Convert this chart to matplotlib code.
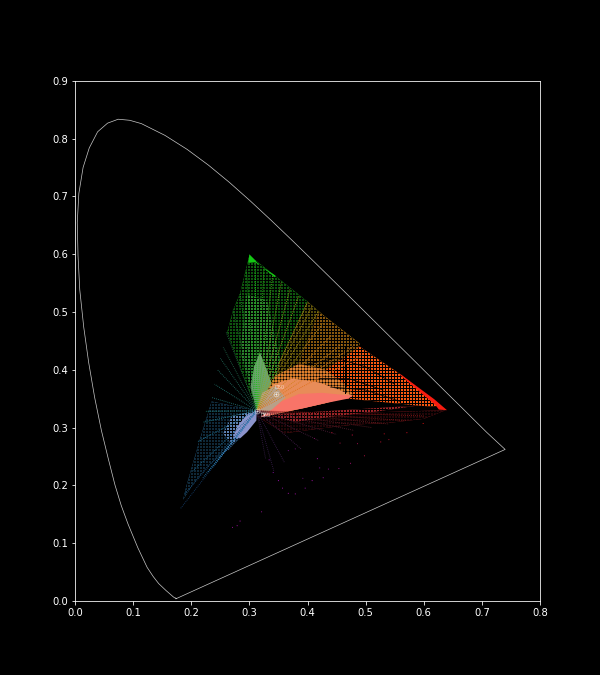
import matplotlib
matplotlib.use('Agg')
import matplotlib.pyplot as plt
from matplotlib.collections import LineCollection

# Spectral locus (xy), closed by the line of purples
locus_x = [0.1738, 0.1733, 0.1726, 0.1714, 0.1689, 0.1644, 0.1566, 0.1440, 0.1345, 0.1241, 0.1080, 0.0913, 0.0795, 0.0687,
           0.0570, 0.0454, 0.0338, 0.0235, 0.0150, 0.0082, 0.0052, 0.0039, 0.0066, 0.0139, 0.0245, 0.0389, 0.0560, 0.0743,
           0.0940, 0.1142, 0.1547, 0.1929, 0.2296, 0.2658,
           0.3016, 0.3373, 0.3731, 0.4087, 0.4441, 0.4788, 0.5125, 0.5448, 0.5752, 0.6029, 0.6270, 0.6482,
           0.6658, 0.6801, 0.6915, 0.7006, 0.7079, 0.7400, 0.1738]
locus_y = [0.0035, 0.0048, 0.0048, 0.0051, 0.0069, 0.0109, 0.0177, 0.0297, 0.0420, 0.0578, 0.0920, 0.1327, 0.1650, 0.2007,
           0.2470, 0.2950, 0.3520, 0.4127, 0.4740, 0.5384, 0.5980, 0.6548, 0.7050, 0.7502, 0.7840, 0.8120, 0.8270, 0.8338,
           0.8320, 0.8262, 0.8059, 0.7816, 0.7543, 0.7243,
           0.6923, 0.6589, 0.6245, 0.5896, 0.5547, 0.5202, 0.4866, 0.4544, 0.4242, 0.3965, 0.3725, 0.3514,
           0.3340, 0.3197, 0.3083, 0.2993, 0.2920, 0.2620, 0.0035]

wp_x, wp_y = 0.3127, 0.3290
ill_x = [0.3127, 0.3457]
ill_y = [0.3290, 0.3585]
ill_names = ['D65', 'D50']

# Outer ends of the sparse fans
outer_x = [0.310, 0.325, 0.340, 0.355, 0.370, 0.385, 0.400, 0.408,
           0.295, 0.284, 0.272, 0.260, 0.255, 0.250, 0.245, 0.240, 0.235,
           0.418, 0.426, 0.442, 0.460, 0.478, 0.494,
           0.224, 0.220, 0.210, 0.203, 0.189, 0.181, 0.220, 0.228, 0.237, 0.246, 0.255, 0.263,
           0.600, 0.570, 0.540, 0.510, 0.480, 0.450, 0.420, 0.390, 0.360, 0.342, 0.328]
outer_y = [0.588, 0.575, 0.564, 0.552, 0.540, 0.528, 0.516, 0.510,
           0.570, 0.532, 0.503, 0.465, 0.439, 0.420, 0.400, 0.375, 0.352,
           0.500, 0.480, 0.460, 0.445, 0.440, 0.425,
           0.328, 0.309, 0.275, 0.225, 0.185, 0.159, 0.213, 0.222, 0.231, 0.243, 0.255, 0.260,
           0.320, 0.312, 0.306, 0.300, 0.295, 0.288, 0.277, 0.262, 0.240, 0.225, 0.245]
outer_c = ['#18c418', '#30b418', '#48ac18', '#70a818', '#90a418', '#a0a018', '#b09814', '#b09414',
           '#18b018', '#1c8c2c', '#206c30', '#206440', '#206448', '#206858', '#206a60', '#207068', '#207070',
           '#b09010', '#b88410', '#c87c10', '#d08018', '#d87818', '#e07018',
           '#208878', '#20808c', '#207898', '#1c6890', '#184c78', '#143c68', '#20709c', '#2874a4', '#3078ac', '#3880b4',
           '#407cb4', '#4c80bc',
           '#901818', '#741818', '#641c20', '#581c24', '#501c2c', '#481c34', '#441c3c', '#401c48', '#381c48', '#341c48', '#341c44']

# Stippled sectors: outline, colour in the calls below
green_sec_x = [0.3127, 0.262, 0.272, 0.284, 0.300, 0.345, 0.400, 0.360]
green_sec_y = [0.3290, 0.465, 0.503, 0.532, 0.598, 0.562, 0.518, 0.400]
green_in_x = [0.3127, 0.285, 0.295, 0.330, 0.352, 0.345]
green_in_y = [0.3290, 0.430, 0.530, 0.520, 0.420, 0.360]
yellow_sec_x = [0.3127, 0.400, 0.430, 0.490, 0.440, 0.360]
yellow_sec_y = [0.3290, 0.518, 0.492, 0.445, 0.400, 0.370]
amber_x = [0.3600, 0.420, 0.490, 0.470, 0.400]
amber_y = [0.3500, 0.500, 0.445, 0.400, 0.370]
orange_sec_x = [0.3600, 0.490, 0.560, 0.630, 0.590, 0.520, 0.470]
orange_sec_y = [0.3500, 0.440, 0.392, 0.335, 0.338, 0.345, 0.350]
red_sec_x = [0.3127, 0.638, 0.600, 0.540, 0.480, 0.420, 0.360]
red_sec_y = [0.3200, 0.330, 0.315, 0.308, 0.305, 0.298, 0.290]
red_in_x = [0.3300, 0.590, 0.520, 0.450, 0.380]
red_in_y = [0.3220, 0.338, 0.328, 0.320, 0.310]
blue_sec_x = [0.3127, 0.235, 0.215, 0.192, 0.186, 0.205, 0.230, 0.255, 0.285]
blue_sec_y = [0.3290, 0.345, 0.280, 0.200, 0.175, 0.205, 0.235, 0.255, 0.282]
teal_x = [0.3127, 0.270, 0.255, 0.270, 0.300]
teal_y = [0.3290, 0.320, 0.290, 0.270, 0.300]
green_rim_x = [0.300, 0.298, 0.310, 0.345, 0.344, 0.318]
green_rim_y = [0.600, 0.585, 0.586, 0.563, 0.560, 0.581]
red_rim_x = [0.640, 0.626, 0.620, 0.560, 0.559, 0.618]
red_rim_y = [0.330, 0.331, 0.339, 0.390, 0.393, 0.349]

# Outlines of the solid areas around the white point, outer first
lobe_or_x = [0.3127, 0.345, 0.385, 0.430, 0.460, 0.478, 0.430, 0.390, 0.330]
lobe_or_y = [0.3290, 0.390, 0.410, 0.400, 0.378, 0.358, 0.342, 0.333, 0.320]
lobe_tan_x = [0.3127, 0.340, 0.375, 0.420, 0.455, 0.478, 0.430, 0.390, 0.330]
lobe_tan_y = [0.3290, 0.375, 0.385, 0.378, 0.365, 0.355, 0.342, 0.333, 0.320]
salmon_x = [0.3300, 0.355, 0.385, 0.425, 0.478, 0.470, 0.430, 0.392, 0.350, 0.320]
salmon_y = [0.3280, 0.345, 0.358, 0.360, 0.355, 0.350, 0.342, 0.333, 0.325, 0.318]
pale_x = [0.3127, 0.322, 0.345, 0.362, 0.340, 0.325]
pale_y = [0.3290, 0.360, 0.372, 0.352, 0.332, 0.322]
green_x = [0.3127, 0.302, 0.308, 0.318, 0.328, 0.340, 0.325]
green_y = [0.3290, 0.370, 0.405, 0.430, 0.405, 0.372, 0.340]
lav_x = [0.3127, 0.295, 0.278, 0.272, 0.285, 0.296, 0.312]
lav_y = [0.3290, 0.322, 0.300, 0.282, 0.282, 0.292, 0.312]

# Dark seams through the orange sector
seam_x = [0.4645, 0.4645]
seam_y = [0.360, 0.440]
arc1_x = [0.400, 0.450, 0.500, 0.550]
arc1_y = [0.410, 0.420, 0.405, 0.375]
arc2_x = [0.420, 0.470, 0.530]
arc2_y = [0.385, 0.385, 0.365]
arc3_x = [0.440, 0.500, 0.560]
arc3_y = [0.370, 0.365, 0.345]

# Isolated purple / red points below the triangle
stray_x = [0.442, 0.477, 0.532, 0.571, 0.599, 0.486, 0.526, 0.540, 0.498, 0.474, 0.454, 0.436, 0.421, 0.417, 0.427,
           0.408, 0.396, 0.379, 0.367, 0.357, 0.350, 0.341, 0.334, 0.321, 0.284, 0.279, 0.271, 0.367, 0.379, 0.456,
           0.412, 0.392]
stray_y = [0.291, 0.287, 0.289, 0.291, 0.307, 0.272, 0.275, 0.279, 0.251, 0.238, 0.229, 0.228, 0.230, 0.246, 0.213,
           0.208, 0.195, 0.185, 0.186, 0.195, 0.208, 0.222, 0.244, 0.154, 0.138, 0.130, 0.127, 0.260, 0.263, 0.273,
           0.281, 0.212]
stray_c = ['#c01030', '#d01040', '#c01020', '#d01020', '#e01010', '#a01050', '#c01030', '#a81028', '#b01040', '#a01070',
           '#901080', '#801080', '#701090', '#a010a0', '#9010a0', '#a010a0', '#9010a0', '#a010a0', '#a010a0', '#9010a0',
           '#a010b0', '#8010a0', '#8010a0', '#901090', '#a010a0', '#a010a0', '#901090', '#701080', '#701070', '#a01040',
           '#801060', '#601070']

plt.style.use('dark_background')
fig, ax = plt.subplots(figsize=(600 / 72, 675 / 72), dpi=72)


def stipple(x, y, color, gap, z):
    # colour fill with a black grid on top, so only dots of colour remain
    plt.rcParams['hatch.linewidth'] = gap
    ax.fill(x, y, facecolor=color, edgecolor='black', hatch='++++', lw=0, zorder=z)


stipple(red_sec_x, red_sec_y, '#b02028', 1.8, 1)
stipple(red_in_x, red_in_y, '#c83034', 1.2, 1.02)
stipple(blue_sec_x, blue_sec_y, '#3488c0', 1.7, 1)
stipple(teal_x, teal_y, '#6890c8', 1.1, 1.02)
stipple(green_sec_x, green_sec_y, '#24d824', 1.6, 1)
stipple(green_in_x, green_in_y, '#40c040', 1.3, 1.02)
stipple(yellow_sec_x, yellow_sec_y, '#d0b818', 1.6, 1)
stipple(amber_x, amber_y, '#e09018', 1.4, 1.05)
stipple(orange_sec_x, orange_sec_y, '#f85810', 1.0, 1.1)

# Solid areas
ax.fill(green_x, green_y, color='#6ca46c', lw=0, zorder=1.2)
stipple(lobe_or_x, lobe_or_y, '#e08030', 0.5, 1.2)
ax.fill(lobe_tan_x, lobe_tan_y, color='#e88c58', lw=0, zorder=1.3)
ax.fill(salmon_x, salmon_y, color='#f87468', lw=0, zorder=1.4)
ax.fill(pale_x, pale_y, color='#b8a088', lw=0, zorder=1.5)
ax.fill(lav_x, lav_y, color='#8c94cc', lw=0, zorder=1.3)
ax.fill(green_rim_x, green_rim_y, color='#14c814', lw=0, zorder=1.5)
ax.fill(red_rim_x, red_rim_y, color='#f81c10', lw=0, zorder=1.5)

outer_segs = [[(wp_x, wp_y), (x, y)] for x, y in zip(outer_x, outer_y)]
ax.add_collection(LineCollection(outer_segs, colors=outer_c, linewidths=0.9, linestyles=(0, (1, 1.2)), zorder=2))

ax.plot(seam_x, seam_y, color='black', lw=1, zorder=2.5)
ax.plot(arc1_x, arc1_y, color='black', lw=0.8, zorder=2.5)
ax.plot(arc2_x, arc2_y, color='black', lw=0.8, zorder=2.5)
ax.plot(arc3_x, arc3_y, color='black', lw=0.8, zorder=2.5)
ax.scatter(stray_x, stray_y, s=1.2, c=stray_c, linewidths=0, zorder=2)

ax.plot(locus_x, locus_y, color='#c8c8c8', lw=0.7, zorder=3)

# Illuminants
ax.plot(ill_x, ill_y, 'o', ms=5, mfc='none', mec='white', mew=0.5, alpha=0.8, zorder=4)
ax.plot(ill_x, ill_y, '+', ms=4, mec='white', mew=0.5, alpha=0.8, zorder=4)
ax.text(ill_x[0] + 0.006, ill_y[0] - 0.011, ill_names[0], color='white', fontsize=5, alpha=0.7, zorder=4)
ax.text(ill_x[1] - 0.002, ill_y[1] + 0.008, ill_names[1], color='white', fontsize=5, alpha=0.7, zorder=4)

ax.set_xlim(0, 0.8)
ax.set_ylim(0, 0.9)

plt.savefig('out.png', dpi=72)
